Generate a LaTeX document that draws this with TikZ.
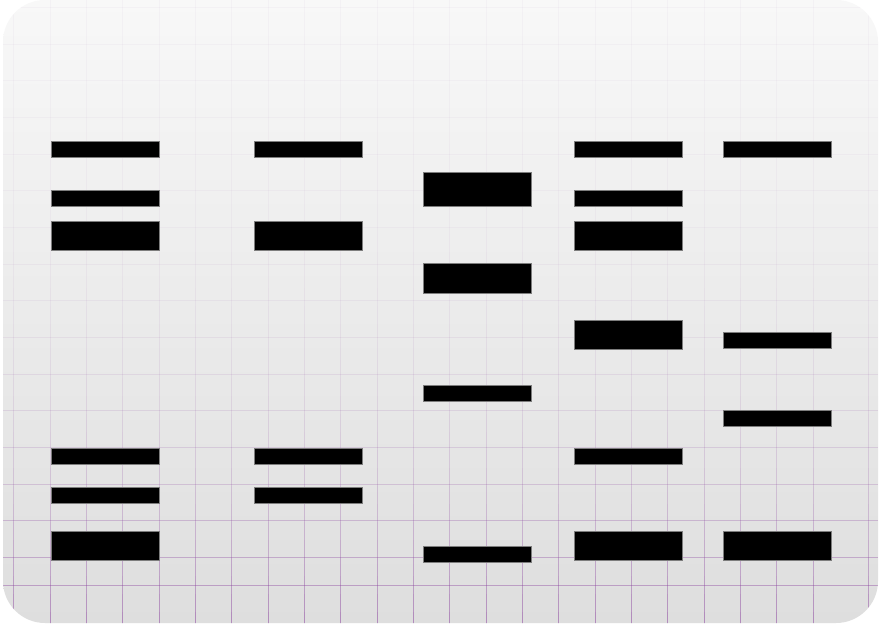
\documentclass[tikz,border=0pt]{standalone}
\definecolor{gridc}{RGB}{140,70,160}
\definecolor{papertop}{RGB}{248,248,248}
\definecolor{papermid}{RGB}{241,241,241}
\definecolor{paperbot}{RGB}{222,222,222}
\definecolor{bandedge}{RGB}{125,125,125}
\begin{document}
\begin{tikzpicture}[x=1pt,y=-1pt,
  band/.style={fill=black, draw=bandedge, line width=0.7pt},
  paper/.style={rounded corners=42pt},
  gridline/.style={draw=gridc, line width=0.6pt}]
\useasboundingbox (0,0) rectangle (881,626);
\fill[white] (0,0) rectangle (881,626);
% paper sheet
\path[paper, top color=papertop, middle color=papermid, bottom color=paperbot] (3,0) rectangle (878,623);
\begin{scope}
  \clip[paper] (3,0) rectangle (878,623);
  % horizontal grid lines
  \foreach \yy in {7.3,43.97,80.64,117.31,153.98,190.65,227.32,263.99,300.66,337.33,374,410.67,447.34,484.01,520.68,557.35,585} {
    \pgfmathsetmacro\op{0.04+0.5*(\yy/623)^4}
    \draw[gridline, draw opacity=\op] (3,\yy) -- (878,\yy);
  }
  % vertical grid lines, in short segments so that they fade upwards
  \foreach \j in {0,...,34} {
    \pgfmathsetmacro\ya{\j*18}
    \pgfmathsetmacro\yb{\ya+18}
    \pgfmathsetmacro\op{0.04+0.5*((\ya+9)/623)^4}
    \draw[gridline, draw opacity=\op]
      \foreach \k in {0,...,22} {(13.7+36.33*\k,\ya) -- (13.7+36.33*\k,\yb)}
      (868,\ya) -- (868,\yb);
  }
\end{scope}
% lane 1
\foreach \ya/\yb in {141.3/157,190.3/206.3,221.3/250.7,448/464.3,487/503,531.3/560.7}
  \draw[band] (51.3,\ya) rectangle (159,\yb);
% lane 2
\foreach \ya/\yb in {141.3/157,221.3/250.7,448/464.3,487/503}
  \draw[band] (254,\ya) rectangle (362,\yb);
% lane 3
\foreach \ya/\yb in {172.3/206,263.7/293.7,385.3/401.3,546/562}
  \draw[band] (423,\ya) rectangle (531,\yb);
% lane 4
\foreach \ya/\yb in {141.3/157,190.3/206.3,221.3/250.7,320.3/349.3,448/464.3,531.3/560.7}
  \draw[band] (574,\ya) rectangle (682,\yb);
% lane 5
\foreach \ya/\yb in {141.3/157,332.3/348.3,410/426.3,531.3/560.7}
  \draw[band] (723,\ya) rectangle (831,\yb);
\end{tikzpicture}
\end{document}
